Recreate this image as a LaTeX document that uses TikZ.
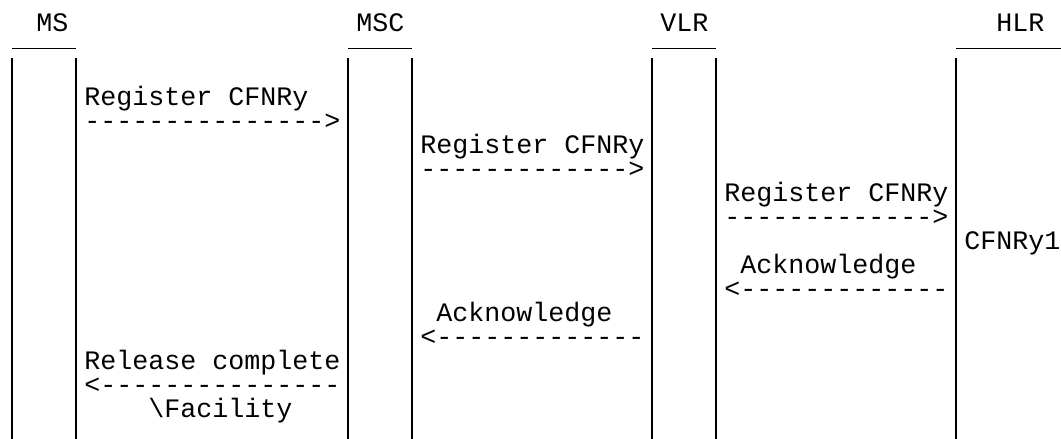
\documentclass[tikz,border=0pt]{standalone}
\usepackage{fontspec}
\setmonofont{Liberation Mono}
\tikzset{
  txt/.style={anchor=base west,inner sep=0pt,font=\ttfamily\fontsize{20pt}{24pt}\selectfont},
  bar/.style={line width=1.5pt},
  rule/.style={line width=1pt}
}
\begin{document}
\begin{tikzpicture}[x=0.75pt,y=-0.75pt]
  \useasboundingbox (0,0) rectangle (1061,439);

  %MS
  \node[txt] (ms) at (36,31.7) {MS};
  \coordinate (msL) at (12,58.3);
  \coordinate (msR) at (76,58.3);
  \draw[rule] (12,48.3) -- (76,48.3); %上の線
  \draw[bar] (msL) -- (12,439); %左の縦棒
  \draw[bar] (msR) -- (76,439); %右の縦棒

  %MSC
  \node[txt] (msc) at (356,31.7) {MSC};
  \coordinate (mscL) at (348,58.3);
  \coordinate (mscR) at (412,58.3);
  \draw[rule] (348,48.3) -- (412,48.3); %上の線
  \draw[bar] (mscL) -- (348,439); %左の縦棒
  \draw[bar] (mscR) -- (412,439); %右の縦棒

  %VLR
  \node[txt] (vlr) at (660,31.7) {VLR};
  \coordinate (vlrL) at (652,58.3);
  \coordinate (vlrR) at (716,58.3);
  \draw[rule] (652,48.3) -- (716,48.3); %上の線
  \draw[bar] (vlrL) -- (652,439); %左の縦棒
  \draw[bar] (vlrR) -- (716,439); %右の縦棒

  %HLR
  \node[txt] (hlr) at (996,31.7) {HLR};
  \coordinate (hlrL) at (956,58.3);
  \draw[rule] (956,48.3) -- (1061,48.3); %上の線
  \draw[bar] (hlrL) -- (956,439); %左の縦棒

  %messages
  \node[txt] (reg1) at (84,105.5) {Register CFNRy};
  \node[txt] (reg1a) at (84,129.5) {--------------->};
  \node[txt] (reg2) at (420,153.5) {Register CFNRy};
  \node[txt] (reg2a) at (420,177.5) {------------->};
  \node[txt] (reg3) at (724,201.5) {Register CFNRy};
  \node[txt] (reg3a) at (724,225.5) {------------->};
  \node[txt] (cfnry) at (964,249.5) {CFNRy1};
  \node[txt] (ack1) at (740,273.5) {Acknowledge};
  \node[txt] (ack1a) at (724,297.5) {<-------------};
  \node[txt] (ack2) at (436,321.5) {Acknowledge};
  \node[txt] (ack2a) at (420,345.5) {<-------------};
  \node[txt] (rel) at (84,369.5) {Release complete};
  \node[txt] (rela) at (84,393.5) {<---------------};
  \node[txt] (fac) at (148,417.5) {\textbackslash Facility};
\end{tikzpicture}
\end{document}
